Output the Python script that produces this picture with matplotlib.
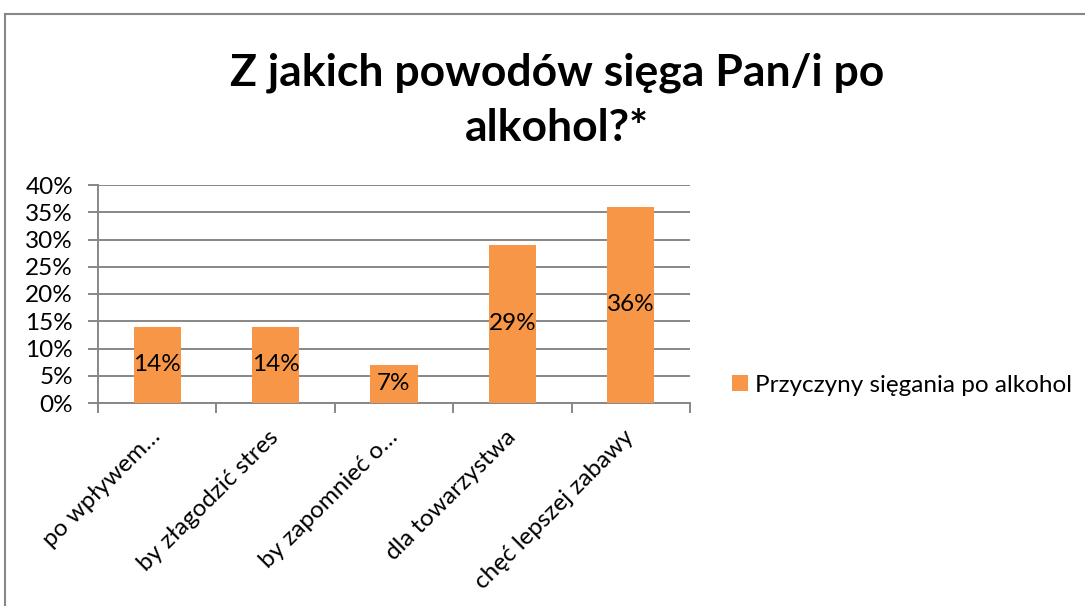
import matplotlib
matplotlib.use("Agg")
import matplotlib.pyplot as plt
from matplotlib.patches import Rectangle, Patch
from matplotlib.ticker import FixedLocator

categories = ["po wpływem…", "by złagodzić stres", "by zapomnieć o…",
              "dla towarzystwa", "chęć lepszej zabawy"]
values = [14, 14, 7, 29, 36]
yticks = [0, 5, 10, 15, 20, 25, 30, 35, 40]
series_name = "Przyczyny sięgania po alkohol"
title = "Z jakich powodów sięga Pan/i po\nalkohol?*"

plt.rcParams['font.family'] = ['Lato', 'DejaVu Sans']

W, H = 1085, 606
fig = plt.figure(figsize=(W / 100, H / 100), dpi=100)
fig.patch.set_facecolor('white')

border = Rectangle((5 / W, -0.1), 1.2, 1 - 14 / H + 0.1, transform=fig.transFigure,
                   fill=False, edgecolor='#878787', linewidth=1.5)
fig.patches.append(border)

FS = 17.5
ax = fig.add_axes([98 / W, 1 - 403 / H, (690 - 98) / W, (403 - 185) / H])
bar_color = '#F79646'
x = list(range(len(categories)))
ax.bar(x, values, width=0.4, color=bar_color, zorder=3)
for xi, v in zip(x, values):
    ax.text(xi, v / 2, f"{v}%", ha='center', va='center', fontsize=FS,
            color='black', zorder=4)

ax.set_xlim(-0.5, len(categories) - 0.5)
ax.set_ylim(0, 40)
ax.set_yticks(yticks)
ax.set_yticklabels([f"{t}%" for t in yticks], fontsize=FS)
ax.yaxis.grid(True, color='#878787', linewidth=1.4, zorder=0)
ax.tick_params(axis='y', length=7, width=1.4, color='#878787', pad=11)

ax.set_xticks(x)
ax.set_xticklabels(categories, rotation=45, ha='right', va='center',
                   rotation_mode='anchor', fontsize=FS)
ax.tick_params(axis='x', which='major', length=0, pad=22)
ax.xaxis.set_minor_locator(FixedLocator([i - 0.5 for i in range(len(categories) + 1)]))
ax.tick_params(axis='x', which='minor', length=7, width=1.4, color='#878787')

for s in ['top', 'right']:
    ax.spines[s].set_visible(False)
for s in ['left', 'bottom']:
    ax.spines[s].set_color('#878787')
    ax.spines[s].set_linewidth(1.4)

fig.text(557 / W, 1 - 100 / H, title, ha='center', va='center', fontsize=32,
         fontweight='bold', linespacing=1.45)

handle = Patch(facecolor=bar_color, edgecolor='none')
fig.legend([handle], [series_name], loc='center left',
           bbox_to_anchor=(732 / W, 1 - 385 / H), frameon=False, fontsize=FS,
           handlelength=0.66, handleheight=0.66, handletextpad=0.3,
           borderpad=0, borderaxespad=0)

fig.savefig("out.png", dpi=100, facecolor='white')
